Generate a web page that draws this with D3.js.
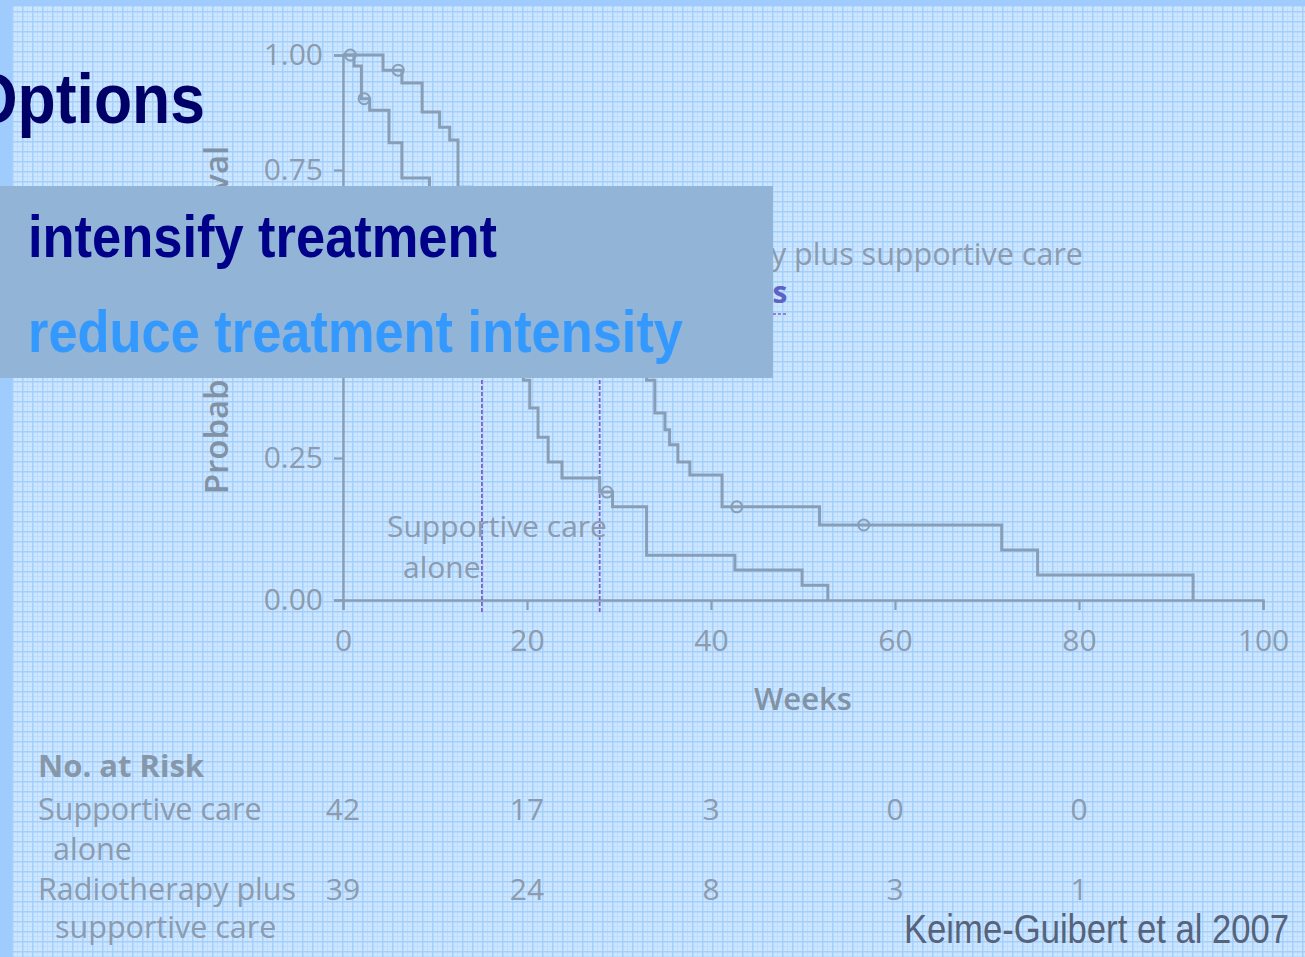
<!DOCTYPE html>
<html>
<head>
<meta charset="utf-8">
<script src="https://cdn.jsdelivr.net/npm/d3@7"></script>
<style>
  html, body { margin: 0; padding: 0; overflow: hidden; background: #9fccfd; }
  svg { display: block; }
</style>
</head>
<body>
<svg id="slide" width="1305" height="957"></svg>
<script>
// ---- data -------------------------------------------------------------
const weekTicks = [0, 20, 40, 60, 80, 100];
const survivalTicks = [0, 0.25, 0.5, 0.75, 1];

// Kaplan–Meier steps: [week, probability after the event]
const supportiveSteps = [
  [0, 1], [1.2, 0.976], [2.0, 0.905], [2.9, 0.880], [5.0, 0.809], [6.4, 0.736],
  [9.4, 0.70], [10.5, 0.67], [11.5, 0.645], [12.5, 0.62], [13.5, 0.595],
  [14.3, 0.55], [15.1, 0.48], [16.2, 0.455], [17.4, 0.43], [18.6, 0.41],
  [19.6, 0.385], [20.3, 0.337], [21.2, 0.286], [22.3, 0.243], [23.8, 0.215],
  [27.9, 0.19], [29.3, 0.164], [33.0, 0.079], [42.6, 0.053], [49.9, 0.026],
  [52.7, 0]
];
const supportiveCensored = [[0.8, 1.0], [2.3, 0.905], [28.7, 0.19]];

const radioSteps = [
  [0, 1], [4.35, 0.967], [6.4, 0.939], [8.6, 0.876], [10.5, 0.843], [11.6, 0.815],
  [12.5, 0.72], [14, 0.69], [16, 0.66], [18, 0.63], [20, 0.60], [22, 0.57],
  [24, 0.55], [26, 0.52], [27.9, 0.49], [29.5, 0.46], [31, 0.43], [32.2, 0.41],
  [33.0, 0.385], [33.9, 0.328], [35.0, 0.299], [35.5, 0.273], [36.4, 0.243],
  [37.7, 0.220], [41.2, 0.164], [51.8, 0.132], [71.6, 0.088], [75.5, 0.044],
  [92.4, 0]
];
const radioCensored = [[6.0, 0.967], [42.8, 0.164], [56.6, 0.132]];

const medianWeeks = [15.1, 27.9];
const medianEnd = 48.3;

const riskWeeks = [0, 20, 40, 60, 80];
const riskSupportive = [42, 17, 3, 0, 0];
const riskRadio = [39, 24, 8, 3, 1];

// ---- setup ------------------------------------------------------------
const svg = d3.select("#slide");
const W = 1305, H = 957;

const defs = svg.append("defs");
const pat = defs.append("pattern")
  .attr("id", "paper").attr("patternUnits", "userSpaceOnUse")
  .attr("width", 10).attr("height", 10).attr("x", 2).attr("y", 1);
pat.append("rect").attr("width", 10).attr("height", 10).attr("fill", "#cde6ff");
pat.append("rect").attr("x", 5).attr("y", 0).attr("width", 1).attr("height", 10).attr("fill", "#bddcfd");
pat.append("rect").attr("x", 0).attr("y", 5).attr("width", 10).attr("height", 1).attr("fill", "#bddcfd");
pat.append("rect").attr("width", 10).attr("height", 1.5).attr("fill", "#a4cffb");
pat.append("rect").attr("width", 1.5).attr("height", 10).attr("fill", "#a4cffb");

// slide background: solid frame strips + textured paper
svg.append("rect").attr("width", W).attr("height", H).attr("fill", "#9fccfd");
svg.append("rect").attr("x", 12).attr("y", 6).attr("width", W - 12).attr("height", H - 6)
  .attr("fill", "url(#paper)");

// ---- scales -----------------------------------------------------------
const x = d3.scaleLinear().domain([0, 100]).range([343, 1263]);
const y = d3.scaleLinear().domain([0, 0.25, 0.75, 1]).range([600, 458, 170, 55]);

const ink = "#889eb6";
const textInk = "#8c9bad";
const chartFont = "'Open Sans', 'DejaVu Sans', sans-serif";
const chart = svg.append("g");

// ---- axes -------------------------------------------------------------
const yAxis = chart.append("g").attr("transform", `translate(${x(0)},0)`)
  .call(d3.axisLeft(y).tickValues(survivalTicks).tickFormat(d3.format(".2f"))
    .tickSize(9).tickPadding(11));
const xAxis = chart.append("g").attr("transform", `translate(0,${y(0)})`)
  .call(d3.axisBottom(x).tickValues(weekTicks).tickFormat(d3.format("d"))
    .tickSize(10).tickPadding(14));
[yAxis, xAxis].forEach(a => {
  a.select(".domain").attr("stroke", ink).attr("stroke-width", 2.4);
  a.selectAll(".tick line").attr("stroke", ink).attr("stroke-width", 2.2);
  a.selectAll(".tick text").attr("fill", textInk).attr("font-size", 30)
    .attr("font-family", chartFont);
});
xAxis.selectAll(".tick text").attr("dy", "0.9em");

chart.append("text")
  .attr("transform", `translate(${x(50)},710)`)
  .attr("text-anchor", "middle").attr("font-family", chartFont)
  .attr("font-size", 31).attr("font-weight", 600).attr("fill", "#8292a5")
  .text("Weeks");

chart.append("text")
  .attr("transform", "translate(228,320) rotate(-90)")
  .attr("text-anchor", "middle").attr("font-family", chartFont)
  .attr("font-size", 33).attr("font-weight", 600).attr("fill", "#8292a5")
  .text("Probability of Survival");

// ---- median reference lines ------------------------------------------
const purple = "#7c62c9";
chart.append("line")
  .attr("x1", x(0)).attr("x2", x(medianEnd))
  .attr("y1", y(0.5)).attr("y2", y(0.5))
  .attr("stroke", purple).attr("stroke-width", 1.5).attr("stroke-dasharray", "3,2");
chart.selectAll("line.median").data(medianWeeks).join("line")
  .attr("class", "median")
  .attr("x1", d => x(d)).attr("x2", d => x(d))
  .attr("y1", y(0.5)).attr("y2", y(0) + 13)
  .attr("stroke", purple).attr("stroke-width", 1.8).attr("stroke-dasharray", "4,2");
chart.append("text")
  .attr("x", x(medianEnd)).attr("y", 303).attr("text-anchor", "end")
  .attr("font-family", chartFont).attr("font-size", 30).attr("font-weight", 700)
  .attr("fill", "#5b63c4")
  .text("Medians");

// ---- survival curves --------------------------------------------------
const step = d3.line().x(d => x(d[0])).y(d => y(d[1])).curve(d3.curveStepAfter);
[supportiveSteps, radioSteps].forEach(s => {
  chart.append("path").datum(s).attr("d", step)
    .attr("fill", "none").attr("stroke", ink).attr("stroke-width", 3);
});
[supportiveCensored, radioCensored].forEach(c => {
  chart.selectAll(null).data(c).join("circle")
    .attr("cx", d => x(d[0])).attr("cy", d => y(d[1])).attr("r", 5.5)
    .attr("fill", "none").attr("stroke", ink).attr("stroke-width", 2);
});

// curve labels
chart.append("text").attr("x", 1083).attr("y", 265).attr("text-anchor", "end")
  .attr("font-family", chartFont).attr("font-size", 30.5).attr("fill", textInk)
  .text("Radiotherapy plus supportive care");
chart.append("text").attr("x", 387).attr("y", 537)
  .attr("font-family", chartFont).attr("font-size", 30).attr("fill", textInk)
  .text("Supportive care");
chart.append("text").attr("x", 403).attr("y", 578)
  .attr("font-family", chartFont).attr("font-size", 30).attr("fill", textInk)
  .text("alone");

// ---- number at risk table ---------------------------------------------
const risk = chart.append("g").attr("font-family", chartFont).attr("fill", textInk);
risk.append("text").attr("x", 38).attr("y", 777).attr("font-size", 31)
  .attr("font-weight", 700).attr("fill", "#8697aa").text("No. at Risk");
[["Supportive care", 38, 820], ["alone", 53, 860],
 ["Radiotherapy plus", 38, 900], ["supportive care", 55, 938]].forEach(([t, tx, ty]) => {
  risk.append("text").attr("x", tx).attr("y", ty).attr("font-size", 30.5).text(t);
});
[[riskSupportive, 820], [riskRadio, 900]].forEach(([row, ty]) => {
  risk.selectAll(null).data(row).join("text")
    .attr("x", (d, i) => x(riskWeeks[i])).attr("y", ty)
    .attr("text-anchor", "middle").attr("font-size", 30)
    .text(d => d);
});

// ---- slide text overlay ------------------------------------------------
const slideFont = "'Liberation Sans', Arial, Helvetica, sans-serif";
svg.append("text")
  .attr("x", 205).attr("y", 123).attr("text-anchor", "end")
  .attr("font-family", slideFont).attr("font-weight", 700).attr("font-size", 70)
  .attr("textLength", 236).attr("lengthAdjust", "spacingAndGlyphs")
  .attr("fill", "#000066").text("Options");

svg.append("rect").attr("x", 0).attr("y", 186).attr("width", 773).attr("height", 192)
  .attr("fill", "#91b4d7");

svg.append("text")
  .attr("x", 28).attr("y", 257)
  .attr("font-family", slideFont).attr("font-weight", 700).attr("font-size", 60)
  .attr("textLength", 469).attr("lengthAdjust", "spacingAndGlyphs")
  .attr("fill", "#000088").text("intensify treatment");
svg.append("text")
  .attr("x", 28).attr("y", 352)
  .attr("font-family", slideFont).attr("font-weight", 700).attr("font-size", 60)
  .attr("textLength", 655).attr("lengthAdjust", "spacingAndGlyphs")
  .attr("fill", "#3399ff").text("reduce treatment intensity");

svg.append("text")
  .attr("x", 1289).attr("y", 943).attr("text-anchor", "end")
  .attr("font-family", slideFont).attr("font-size", 41)
  .attr("textLength", 385).attr("lengthAdjust", "spacingAndGlyphs")
  .attr("fill", "#56637a").text("Keime-Guibert et al 2007");
</script>
</body>
</html>
